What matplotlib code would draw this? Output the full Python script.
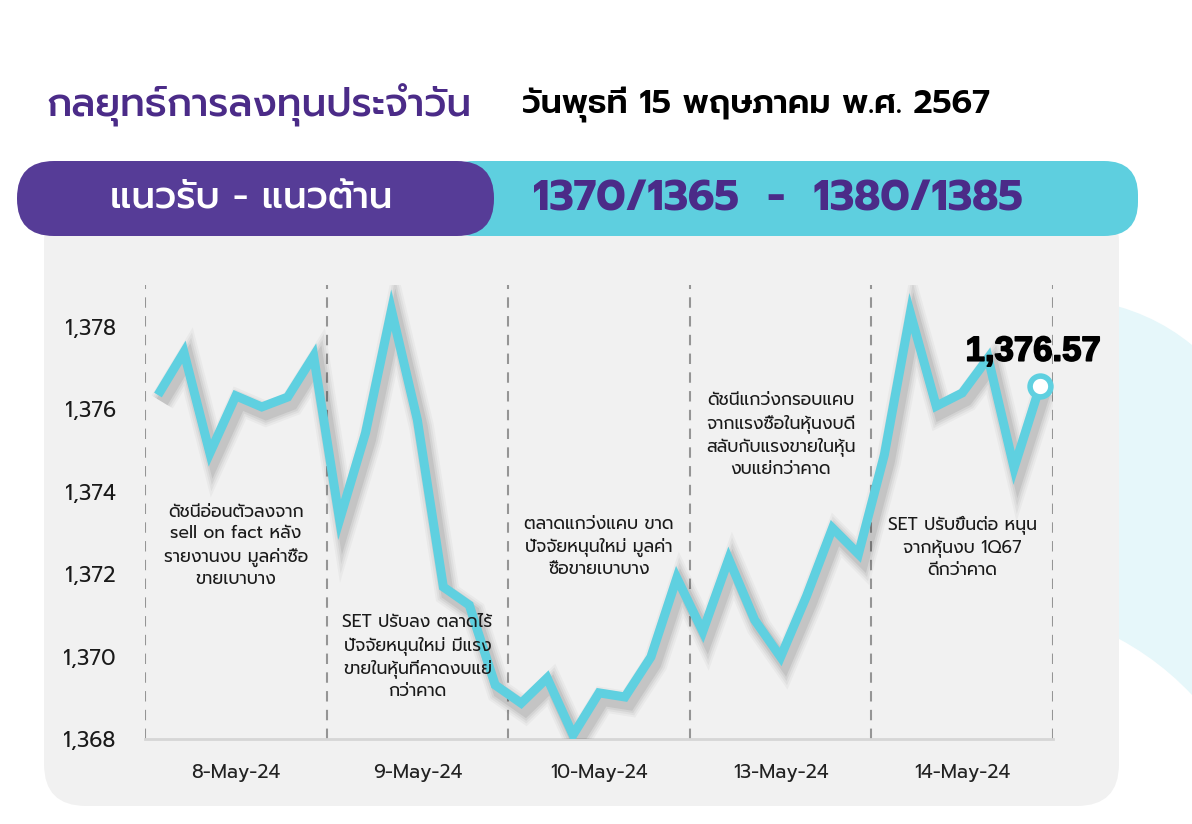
import matplotlib
matplotlib.use("Agg")
import matplotlib.pyplot as plt
import matplotlib.patheffects as pe
from matplotlib.patches import FancyBboxPatch, PathPatch
from matplotlib.path import Path
from matplotlib.ticker import FuncFormatter

plt.rcParams["font.family"] = ["Prompt", "DejaVu Sans"]

# ---- data -------------------------------------------------------------
title = "กลยุทธ์การลงทุนประจำวัน"
date_text = "วันพุธที่ 15 พฤษภาคม พ.ศ. 2567"
band_label = "แนวรับ - แนวต้าน"
band_values = "1370/1365  -  1380/1385"

dates = ["8-May-24", "9-May-24", "10-May-24", "13-May-24", "14-May-24"]
points_per_day = 7
set_index = [
    1376.35, 1377.39, 1374.94, 1376.33, 1376.06, 1376.30, 1377.30,   # 8 May
    1373.32, 1375.43, 1378.41, 1375.74, 1371.69, 1371.25, 1369.31,   # 9 May
    1368.87, 1369.48, 1368.10, 1369.12, 1369.02, 1369.99, 1371.91,   # 10 May
    1370.61, 1372.37, 1370.89, 1369.99, 1371.47, 1373.12, 1372.49,   # 13 May
    1374.90, 1378.34, 1376.08, 1376.40, 1377.25, 1374.58, 1376.57,   # 14 May
]
last_label = "1,376.57"
y_ticks = [1368, 1370, 1372, 1374, 1376, 1378]

notes = [
    "ดัชนีอ่อนตัวลงจาก\nsell on fact หลัง\nรายงานงบ มูลค่าซื้อ\nขายเบาบาง",
    "SET ปรับลง ตลาดไร้\nปัจจัยหนุนใหม่ มีแรง\nขายในหุ้นที่คาดงบแย่\nกว่าคาด",
    "ตลาดแกว่งแคบ ขาด\nปัจจัยหนุนใหม่ มูลค่า\nซื้อขายเบาบาง",
    "ดัชนีแกว่งกรอบแคบ\nจากแรงซื้อในหุ้นงบดี\nสลับกับแรงขายในหุ้น\nงบแย่กว่าคาด",
    "SET ปรับขึ้นต่อ หนุน\nจากหุ้นงบ 1Q67\nดีกว่าคาด",
]
note_y = [546, 657, 547, 435, 547]   # vertical centre of each note, px

PURPLE = "#563c97"
PURPLE_TXT = "#4b2b88"
CYAN = "#5ecfdf"
LINE = "#5fd0e0"
PANEL = "#f1f1f1"

# ---- figure + decoration layer (pixel coords) ---------------------------
fig = plt.figure(figsize=(11.92, 8.24), dpi=100)
bg = fig.add_axes([0, 0, 1, 1], zorder=0)
bg.set_xlim(0, 1192)
bg.set_ylim(824, 0)
bg.axis("off")

# light cyan swoosh on the right
verts = [(1090, 300), (1150, 310), (1192, 345), (1192, 345),
         (1192, 695), (1192, 695), (1150, 650), (1090, 625), (1090, 300)]
codes = [Path.MOVETO, Path.CURVE3, Path.CURVE3, Path.LINETO,
         Path.LINETO, Path.LINETO, Path.CURVE3, Path.CURVE3, Path.CLOSEPOLY]
bg.add_patch(PathPatch(Path(verts, codes), facecolor="#e6f7fa", edgecolor="none"))

bg.add_patch(FancyBboxPatch((44, 200), 1075, 606, facecolor=PANEL, edgecolor="none",
                            boxstyle="round,pad=0,rounding_size=42"))
bg.add_patch(FancyBboxPatch((440, 161), 698, 75, facecolor=CYAN, edgecolor="none",
                            boxstyle="round,pad=0,rounding_size=34"))
bg.add_patch(FancyBboxPatch((17, 161), 477, 75, facecolor=PURPLE, edgecolor="none",
                            boxstyle="round,pad=0,rounding_size=37"))

bg.text(46, 105, title, color=PURPLE_TXT, fontsize=28, fontweight="medium",
        ha="left", va="center")
bg.text(522, 105, date_text, color="black", fontsize=23.8, fontweight="semibold",
        ha="left", va="center")
bg.text(251, 199, band_label, color="white", fontsize=26.7, fontweight="medium",
        ha="center", va="center")
bg.text(778, 199, band_values, color=PURPLE_TXT, fontsize=30.5, fontweight="bold",
        ha="center", va="center")

# ---- chart ------------------------------------------------------------
ax = fig.add_axes([145 / 1192, 85 / 824, 908 / 1192, 454 / 824], zorder=1)
ax.patch.set_alpha(0)
x = list(range(len(set_index)))
ax.set_xlim(-0.5, len(set_index) - 0.5)
ax.set_ylim(1368, 1379.02)

for k in range(len(dates) + 1):
    ax.axvline(k * points_per_day - 0.5, color="#959595", lw=1.5,
               ls=(0, (5, 4)), zorder=1)

shadow = [pe.SimpleLineShadow(offset=(3, -5), shadow_color="black",
                              alpha=a, linewidth=w)
          for w, a in [(18, 0.03), (15, 0.04), (12, 0.05), (9, 0.07)]]
shadow.append(pe.Normal())
ax.plot(x, set_index, color=LINE, lw=6.5, solid_joinstyle="miter",
        solid_capstyle="butt", zorder=3, path_effects=shadow)
ax.plot(x[-1], set_index[-1], "o", ms=15, mfc="white", mec=LINE, mew=4,
        zorder=4, clip_on=False)
ax.annotate(last_label, (x[-1], set_index[-1]), xytext=(-5, 25),
            textcoords="offset points", ha="center", va="center",
            fontsize=25, fontweight="bold", color="black",
            family=["Liberation Sans", "DejaVu Sans"], zorder=5,
            path_effects=[pe.withStroke(linewidth=1.2, foreground="black")])

centers = [k * points_per_day + (points_per_day - 1) / 2 for k in range(len(dates))]
ax.set_xticks(centers)
ax.set_xticklabels(dates)
ax.set_yticks(y_ticks)
ax.yaxis.set_major_formatter(FuncFormatter(lambda v, p: "{:,.0f}".format(v)))
ax.tick_params(axis="x", length=0, pad=18, labelsize=14, labelcolor="#222222")
ax.tick_params(axis="y", length=0, pad=21, labelsize=15.5, labelcolor="#1a1a1a")
for side in ["top", "right", "left"]:
    ax.spines[side].set_visible(False)
ax.spines["bottom"].set_color("#d6d6d6")
ax.spines["bottom"].set_linewidth(2)

# notes sit on top of the line, as in the original
for k, txt in enumerate(notes):
    px = 145 + 908 * (centers[k] + 0.5) / len(set_index)
    ax.text(px, note_y[k], txt, transform=bg.transData, ha="center", va="center",
            fontsize=12.5, linespacing=1.35, color="#1a1a1a", zorder=6)

fig.savefig("out.png", dpi=100)
